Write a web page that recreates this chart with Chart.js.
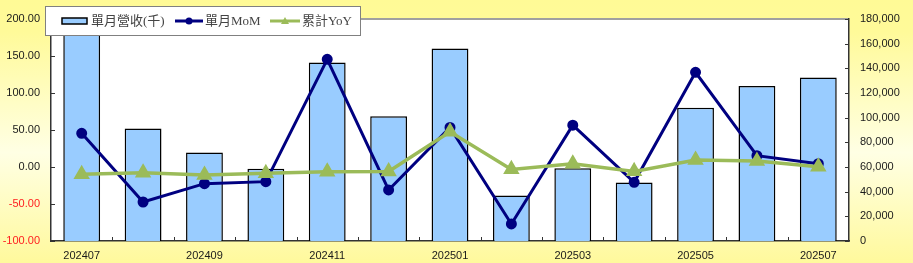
<!DOCTYPE html>
<html>
<head>
<meta charset="utf-8">
<script src="https://cdn.jsdelivr.net/npm/chart.js@4/dist/chart.umd.min.js"></script>
<style>
html,body{margin:0;padding:0;background:#fff;}
#wrap{width:913px;height:263px;}
</style>
</head>
<body>
<div id="wrap"><canvas id="c" width="913" height="263"></canvas></div>
<script>
const categories = ['202407','202408','202409','202410','202411','202412','202501','202502','202503','202504','202505','202506','202507'];
const revenue = [185000, 91200, 71700, 58600, 144700, 101200, 156100, 36900, 58900, 47500, 108100, 125700, 132500];
const mom = [45.5, -47.3, -22.5, -19.8, 145.5, -31, 53.5, -77, 56.5, -20.7, 128, 15.3, 4.5];
const yoy = [-9.9, -7.7, -10.8, -8.6, -6.3, -6.0, 47.7, -3.2, 4.5, -5.9, 9.5, 8.1, 0.4];
const leftTicks = [-100, -50, 0, 50, 100, 150, 200];
const rightTicks = [0, 20000, 40000, 60000, 80000, 100000, 120000, 140000, 160000, 180000];
const seriesNames = ['單月營收(千)', '單月MoM', '累計YoY'];

const tickFont = {family: "'Liberation Sans', Arial, sans-serif", size: 11};

const bgPlugin = {
  id: 'bg',
  beforeDraw(chart) {
    const ctx = chart.ctx, w = chart.width, h = chart.height;
    const g = ctx.createLinearGradient(0, 0, 0, h);
    g.addColorStop(0, '#FFFA96');
    g.addColorStop(0.12, '#FFFA99');
    g.addColorStop(0.58, '#FFFFE4');
    g.addColorStop(1, '#FFF99C');
    ctx.save();
    ctx.fillStyle = g;
    ctx.fillRect(0, 0, w, h);
    const a = chart.chartArea;
    ctx.fillStyle = '#FFFFFF';
    ctx.fillRect(a.left, a.top, a.right - a.left, a.bottom - a.top);
    ctx.strokeStyle = '#A0A0A0';
    ctx.lineWidth = 2;
    ctx.beginPath();
    ctx.moveTo(a.left, a.top);
    ctx.lineTo(a.right, a.top);
    ctx.stroke();
    ctx.restore();
  }
};

const innerTicks = {
  id: 'innerTicks',
  afterDraw(chart) {
    const ctx = chart.ctx, a = chart.chartArea;
    const yL = chart.scales.y, yR = chart.scales.y1, x = chart.scales.x;
    ctx.save();
    ctx.strokeStyle = '#333';
    ctx.lineWidth = 1;
    ctx.beginPath();
    leftTicks.forEach(v => { const p = Math.round(yL.getPixelForValue(v)) + 0.5; ctx.moveTo(a.left, p); ctx.lineTo(a.left + 4, p); });
    rightTicks.forEach(v => { const p = Math.round(yR.getPixelForValue(v)) + 0.5; ctx.moveTo(a.right - 4, p); ctx.lineTo(a.right, p); });
    for (let i = 1; i < categories.length; i++) {
      const p = Math.round((x.getPixelForValue(i - 1) + x.getPixelForValue(i)) / 2) + 0.5;
      ctx.moveTo(p, a.bottom); ctx.lineTo(p, a.bottom - 4);
    }
    ctx.stroke();
    ctx.restore();
  }
};

const legendPlugin = {
  id: 'boxLegend',
  afterDraw(chart) {
    const ctx = chart.ctx;
    ctx.save();
    ctx.fillStyle = '#FFFFFF';
    ctx.fillRect(45, 6, 315, 29);
    ctx.strokeStyle = '#808080';
    ctx.lineWidth = 1;
    ctx.strokeRect(45.5, 6.5, 315, 29);
    const ds = chart.data.datasets;
    const cy = 21;
    ctx.fillStyle = ds[0].backgroundColor;
    ctx.fillRect(62, 18, 25, 6);
    ctx.strokeStyle = '#000';
    ctx.lineWidth = 1.5;
    ctx.strokeRect(62, 18, 25, 6);
    ctx.font = "13px 'Liberation Serif', 'Noto Sans CJK TC', serif";
    ctx.fillStyle = '#444';
    ctx.textBaseline = 'middle';
    ctx.textAlign = 'left';
    ctx.fillText(ds[0].label, 91, cy + 1);
    ctx.strokeStyle = ds[1].borderColor;
    ctx.lineWidth = 3;
    ctx.beginPath(); ctx.moveTo(175, cy); ctx.lineTo(203, cy); ctx.stroke();
    ctx.fillStyle = ds[1].borderColor;
    ctx.beginPath(); ctx.arc(189, cy, 3.5, 0, Math.PI * 2); ctx.fill();
    ctx.fillStyle = '#444';
    ctx.fillText(ds[1].label, 205, cy + 1);
    ctx.strokeStyle = ds[2].borderColor;
    ctx.lineWidth = 3;
    ctx.beginPath(); ctx.moveTo(270, cy); ctx.lineTo(300, cy); ctx.stroke();
    ctx.fillStyle = ds[2].borderColor;
    ctx.beginPath(); ctx.moveTo(285, cy - 4); ctx.lineTo(289, cy + 3); ctx.lineTo(281, cy + 3); ctx.closePath(); ctx.fill();
    ctx.fillStyle = '#444';
    ctx.fillText(ds[2].label, 302, cy + 1);
    ctx.restore();
  }
};

new Chart(document.getElementById('c'), {
  data: {
    labels: categories,
    datasets: [
      {
        type: 'bar', label: seriesNames[0], data: revenue, yAxisID: 'y1', order: 3,
        backgroundColor: '#99CCFF', borderColor: '#000000', borderWidth: 1.5,
        barPercentage: 0.6, categoryPercentage: 1.0
      },
      {
        type: 'line', label: seriesNames[1], data: mom, yAxisID: 'y', order: 2,
        borderColor: '#000080', backgroundColor: '#000080', borderWidth: 3,
        pointRadius: 4, pointBackgroundColor: '#000080', pointBorderColor: '#000080',
        tension: 0
      },
      {
        type: 'line', label: seriesNames[2], data: yoy, yAxisID: 'y', order: 1,
        borderColor: '#9BBB59', backgroundColor: '#9BBB59', borderWidth: 3.5,
        pointStyle: 'triangle', pointRadius: 6, pointBackgroundColor: '#9BBB59', pointBorderColor: '#9BBB59',
        tension: 0
      }
    ]
  },
  options: {
    responsive: false,
    animation: false,
    layout: {padding: {top: 19, left: 0, right: 0, bottom: 0}},
    plugins: {legend: {display: false}, tooltip: {enabled: false}},
    scales: {
      x: {
        type: 'category', offset: true,
        grid: {display: false},
        border: {display: true, color: '#333', width: 1.5},
        ticks: {
          autoSkip: false, maxRotation: 0, font: tickFont, color: '#1a1a1a', padding: 0,
          callback: function(v, i) { return i % 2 === 0 ? categories[i] : ''; }
        },
        afterFit(s) { s.height = 22; }
      },
      y: {
        position: 'left', min: -100, max: 200,
        grid: {display: false},
        border: {display: true, color: '#333', width: 1.5},
        afterBuildTicks(s) { s.ticks = leftTicks.map(v => ({value: v})); },
        ticks: {
          font: tickFont, padding: 3,
          color: ctx => (ctx.tick && ctx.tick.value < 0) ? '#FF2020' : '#1a1a1a',
          callback: v => v.toFixed(2)
        },
        afterFit(s) { s.width = 51; }
      },
      y1: {
        position: 'right', min: 0, max: 180000,
        grid: {display: false},
        border: {display: true, color: '#333', width: 1.5},
        afterBuildTicks(s) { s.ticks = rightTicks.map(v => ({value: v})); },
        ticks: {
          font: tickFont, color: '#1a1a1a', padding: 3,
          callback: v => v.toLocaleString('en-US')
        },
        afterFit(s) { s.width = 64; }
      }
    }
  },
  plugins: [bgPlugin, innerTicks, legendPlugin]
});
</script>
</body>
</html>
